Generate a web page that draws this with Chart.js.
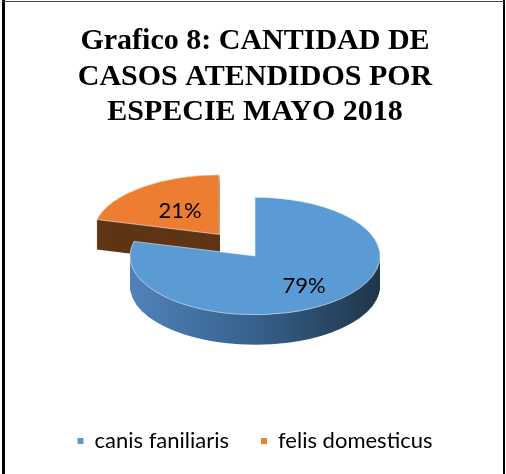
<!DOCTYPE html>
<html>
<head>
<meta charset="utf-8">
<title>Grafico 8</title>
<script src="https://cdn.jsdelivr.net/npm/chart.js@4.4.0/dist/chart.umd.min.js"></script>
<style>
  html, body { margin: 0; padding: 0; background: #fff; }
  #wrap { position: relative; width: 506px; height: 474px; }
</style>
</head>
<body>
<div id="wrap"><canvas id="grafico"></canvas></div>
<script>
// datos del gráfico
const especies = ['canis faniliaris', 'felis domesticus'];
const casos = [79, 21];
const colores = ['#5b9bd5', '#ed7d31'];
const separacion = [0, 232];

// vista en perspectiva de la torta
const INCLINACION = 0.47;  // aplastamiento vertical
const GROSOR = 30;         // alto del canto en px
const CENTRO_Y = 256;      // centro vertical de la torta

// desplazamiento real de una porción separada (igual que ArcElement.draw)
function desplazamiento(arc) {
  const off = (arc.options.offset || 0) / 4;
  const fix = 1 - Math.sin(Math.min(Math.PI, arc.circumference || 0));
  return off + off * fix;
}

function colorCanto(ctx, arc, i) {
  if (i === 0) {
    const g = ctx.createLinearGradient(arc.x - arc.outerRadius, 0, arc.x + arc.outerRadius, 0);
    g.addColorStop(0, '#5182ba');
    g.addColorStop(0.5, '#36618c');
    g.addColorStop(1, '#1f3549');
    return g;
  }
  return '#5f3515';
}

const torta3D = {
  id: 'torta3D',
  beforeDatasetsDraw(chart) {
    const ctx = chart.ctx;
    const arcs = chart.getDatasetMeta(0).data;
    const cx = arcs[0].x, cy = arcs[0].y;
    ctx.save();
    ctx.translate(cx, CENTRO_Y);
    ctx.scale(1, INCLINACION);
    ctx.translate(-cx, -cy);
    // el canto: la porción repetida hacia abajo, de atrás hacia adelante
    for (let i = arcs.length - 1; i >= 0; i--) {
      const arc = arcs[i];
      const original = arc.options;
      arc.options = Object.assign({}, original, {
        backgroundColor: colorCanto(ctx, arc, i),
        borderWidth: 0
      });
      for (let d = GROSOR; d > 0; d--) {
        ctx.save();
        ctx.translate(0, d / INCLINACION);
        arc.draw(ctx);
        ctx.restore();
      }
      arc.options = original;
    }
  },
  afterDatasetsDraw(chart) {
    const ctx = chart.ctx;
    ctx.restore();
    const arcs = chart.getDatasetMeta(0).data;
    const total = casos.reduce((a, b) => a + b, 0);
    const radios = [0.64, 0.5];
    ctx.save();
    ctx.font = '22px Lato';
    ctx.fillStyle = '#000';
    ctx.textAlign = 'center';
    ctx.textBaseline = 'middle';
    arcs.forEach((arc, i) => {
      const medio = (arc.startAngle + arc.endAngle) / 2;
      const r = arc.outerRadius * radios[i] + desplazamiento(arc);
      const x = arc.x + Math.cos(medio) * r;
      const y = CENTRO_Y + Math.sin(medio) * r * INCLINACION;
      ctx.fillText(Math.round(casos[i] / total * 100) + '%', x, y);
    });
    ctx.restore();
  },
  afterDraw(chart) {
    // marco del gráfico
    const ctx = chart.ctx;
    ctx.save();
    ctx.fillStyle = '#000';
    ctx.fillRect(2, 0, 3, chart.height);
    ctx.fillRect(503, 0, 2, chart.height);
    ctx.fillStyle = '#444';
    ctx.fillRect(2, 1, 503, 1);
    ctx.restore();
  }
};

new Chart(document.getElementById('grafico'), {
  type: 'pie',
  data: {
    labels: especies,
    datasets: [{
      data: casos,
      backgroundColor: colores,
      borderColor: 'rgba(235, 242, 250, 0.8)',
      borderWidth: 1,
      offset: separacion,
      radius: 125
    }]
  },
  options: {
    responsive: true,
    maintainAspectRatio: false,
    animation: false,
    events: [],
    layout: { padding: { left: 4, bottom: 12 } },
    plugins: {
      title: {
        display: true,
        text: ['Grafico 8: CANTIDAD DE', 'CASOS ATENDIDOS POR', 'ESPECIE MAYO 2018'],
        color: '#000',
        font: { family: 'Liberation Serif', size: 30, weight: 'bold', lineHeight: 1.18 },
        padding: { top: 24, bottom: 10 }
      },
      legend: {
        position: 'bottom',
        labels: {
          color: '#000',
          font: { family: 'Lato', size: 22 },
          boxWidth: 6,
          boxHeight: 6,
          padding: 32,
          generateLabels(chart) {
            return especies.map((e, i) => ({
              text: e,
              fillStyle: colores[i],
              strokeStyle: colores[i],
              lineWidth: 0,
              index: i
            }));
          }
        }
      },
      tooltip: { enabled: false }
    }
  },
  plugins: [torta3D]
});
</script>
</body>
</html>
